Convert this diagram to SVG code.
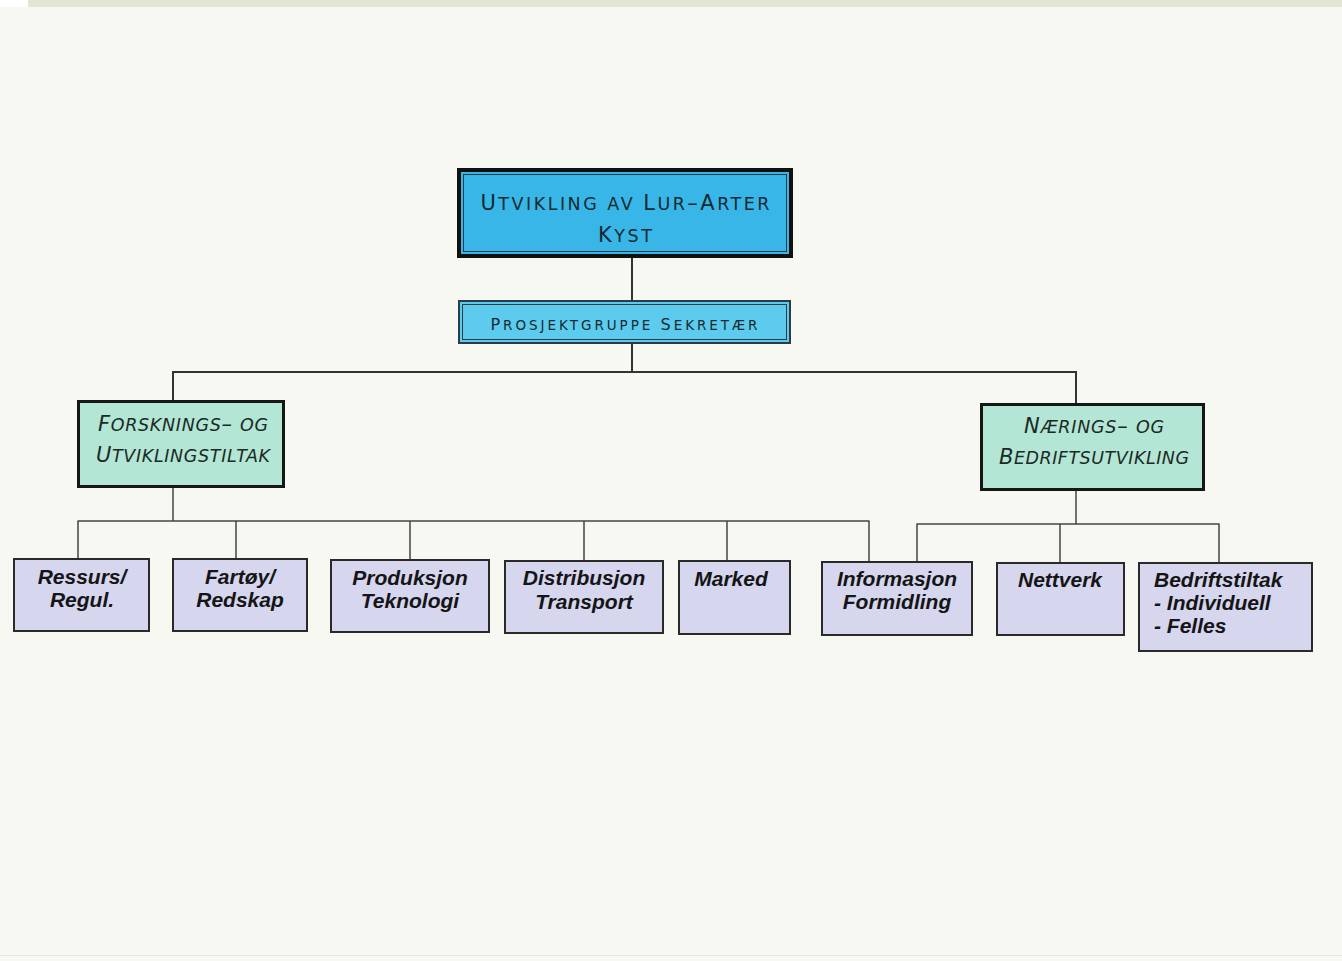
<svg xmlns="http://www.w3.org/2000/svg" width="1342" height="961" viewBox="0 0 1342 961">
<style>
.bg{fill:#f8f8f3}
.conn line{stroke:#333;stroke-width:2}
.conn2 line{stroke:#444;stroke-width:1.5}
.hd{font-family:"DejaVu Sans","Open Sans",sans-serif;fill:#142a30;text-anchor:middle}
.mid{font-family:"DejaVu Sans","Open Sans",sans-serif;font-style:italic;fill:#1c2a26;text-anchor:middle}
.leaf rect{fill:#d6d6ef;stroke:#2a2a2a;stroke-width:2}
.lt{font-family:"Liberation Sans",Arial,sans-serif;font-weight:bold;font-style:italic;font-size:21px;fill:#151515;text-anchor:middle}
.ls{font-family:"Liberation Sans",Arial,sans-serif;font-weight:bold;font-style:italic;font-size:21px;fill:#151515;text-anchor:start}
.sc{font-size:17.5px}
</style>
<rect class="bg" x="0" y="0" width="1342" height="961"/>
<rect x="28" y="0" width="1314" height="7" fill="#e3e5d5"/>
<rect x="0" y="0" width="28" height="7" fill="#ffffff"/>
<line x1="0" y1="955.5" x2="1342" y2="955.5" stroke="#e6e6e2" stroke-width="1"/>

<g id="connectors">
<g class="conn">
<line x1="632" y1="258" x2="632" y2="300"/>
<line x1="632" y1="343" x2="632" y2="373"/>
<line x1="172" y1="372" x2="1077" y2="372"/>
<line x1="173" y1="371" x2="173" y2="400"/>
<line x1="1076" y1="371" x2="1076" y2="403"/>
</g>
<g class="conn2">
<line x1="173" y1="488" x2="173" y2="521"/>
<line x1="77.5" y1="521" x2="869.5" y2="521"/>
<line x1="78" y1="521" x2="78" y2="558"/>
<line x1="236" y1="521" x2="236" y2="558"/>
<line x1="410" y1="521" x2="410" y2="559"/>
<line x1="584" y1="521" x2="584" y2="560"/>
<line x1="727" y1="521" x2="727" y2="560"/>
<line x1="869" y1="521" x2="869" y2="561"/>
<line x1="1076" y1="491" x2="1076" y2="524"/>
<line x1="916.5" y1="524" x2="1219.5" y2="524"/>
<line x1="917" y1="524" x2="917" y2="561"/>
<line x1="1060" y1="524" x2="1060" y2="562"/>
<line x1="1219" y1="524" x2="1219" y2="562"/>
</g>
</g>

<g id="n-top">
<rect x="459" y="170" width="332" height="86" fill="#38b6e8" stroke="#111" stroke-width="4"/>
<rect x="463.5" y="174.5" width="323" height="77" fill="none" stroke="#1b3b48" stroke-width="1"/>
<text class="hd" x="625" y="210" font-size="21" textLength="289" lengthAdjust="spacing">U<tspan class="sc">TVIKLING AV </tspan>L<tspan class="sc">UR</tspan>–A<tspan class="sc">RTER</tspan></text>
<text class="hd" x="625" y="242" font-size="21" textLength="54" lengthAdjust="spacing">K<tspan class="sc">YST</tspan></text>
</g>

<g id="n-sekr">
<rect x="459" y="301" width="331" height="42" fill="#5ccbee" stroke="#2a3c44" stroke-width="2"/>
<rect x="462.5" y="304.5" width="324" height="35" fill="none" stroke="#2a3c44" stroke-width="1"/>
<text class="hd" x="624" y="330" font-size="16" textLength="267" lengthAdjust="spacing">P<tspan font-size="13.5">ROSJEKTGRUPPE </tspan>S<tspan font-size="13.5">EKRETÆR</tspan></text>
</g>

<g id="n-fou">
<rect x="78.5" y="401.5" width="205" height="85" fill="#b3e6d4" stroke="#161616" stroke-width="3"/>
<text class="mid" x="183" y="431" font-size="21" textLength="170" lengthAdjust="spacing">F<tspan class="sc">ORSKNINGS</tspan>– <tspan class="sc">OG</tspan></text>
<text class="mid" x="183" y="462" font-size="21" textLength="174" lengthAdjust="spacing">U<tspan class="sc">TVIKLINGSTILTAK</tspan></text>
</g>

<g id="n-neb">
<rect x="981.5" y="404.5" width="222" height="85" fill="#b3e6d4" stroke="#161616" stroke-width="3"/>
<text class="mid" x="1094" y="433" font-size="21" textLength="140" lengthAdjust="spacing">N<tspan class="sc">ÆRINGS</tspan>– <tspan class="sc">OG</tspan></text>
<text class="mid" x="1094" y="464" font-size="21" textLength="190" lengthAdjust="spacing">B<tspan class="sc">EDRIFTSUTVIKLING</tspan></text>
</g>

<g id="n-ressurs" class="leaf">
<rect x="14" y="559" width="135" height="72"/>
<text class="lt" x="82" y="584">Ressurs/</text>
<text class="lt" x="82" y="607">Regul.</text>
</g>
<g id="n-fartoy" class="leaf">
<rect x="173" y="559" width="134" height="72"/>
<text class="lt" x="240" y="584">Fartøy/</text>
<text class="lt" x="240" y="607">Redskap</text>
</g>
<g id="n-produksjon" class="leaf">
<rect x="331" y="560" width="158" height="72"/>
<text class="lt" x="410" y="585">Produksjon</text>
<text class="lt" x="410" y="608">Teknologi</text>
</g>
<g id="n-distribusjon" class="leaf">
<rect x="505" y="561" width="158" height="72"/>
<text class="lt" x="584" y="585">Distribusjon</text>
<text class="lt" x="584" y="609">Transport</text>
</g>
<g id="n-marked" class="leaf">
<rect x="679" y="561" width="111" height="73"/>
<text class="lt" x="731" y="586">Marked</text>
</g>
<g id="n-informasjon" class="leaf">
<rect x="822" y="562" width="150" height="73"/>
<text class="lt" x="897" y="586">Informasjon</text>
<text class="lt" x="897" y="609">Formidling</text>
</g>
<g id="n-nettverk" class="leaf">
<rect x="997" y="563" width="127" height="72"/>
<text class="lt" x="1060" y="587">Nettverk</text>
</g>
<g id="n-bedrift" class="leaf">
<rect x="1139" y="563" width="173" height="88"/>
<text class="ls" x="1154" y="587">Bedriftstiltak</text>
<text class="ls" x="1154" y="610">- Individuell</text>
<text class="ls" x="1154" y="633">- Felles</text>
</g>
</svg>
